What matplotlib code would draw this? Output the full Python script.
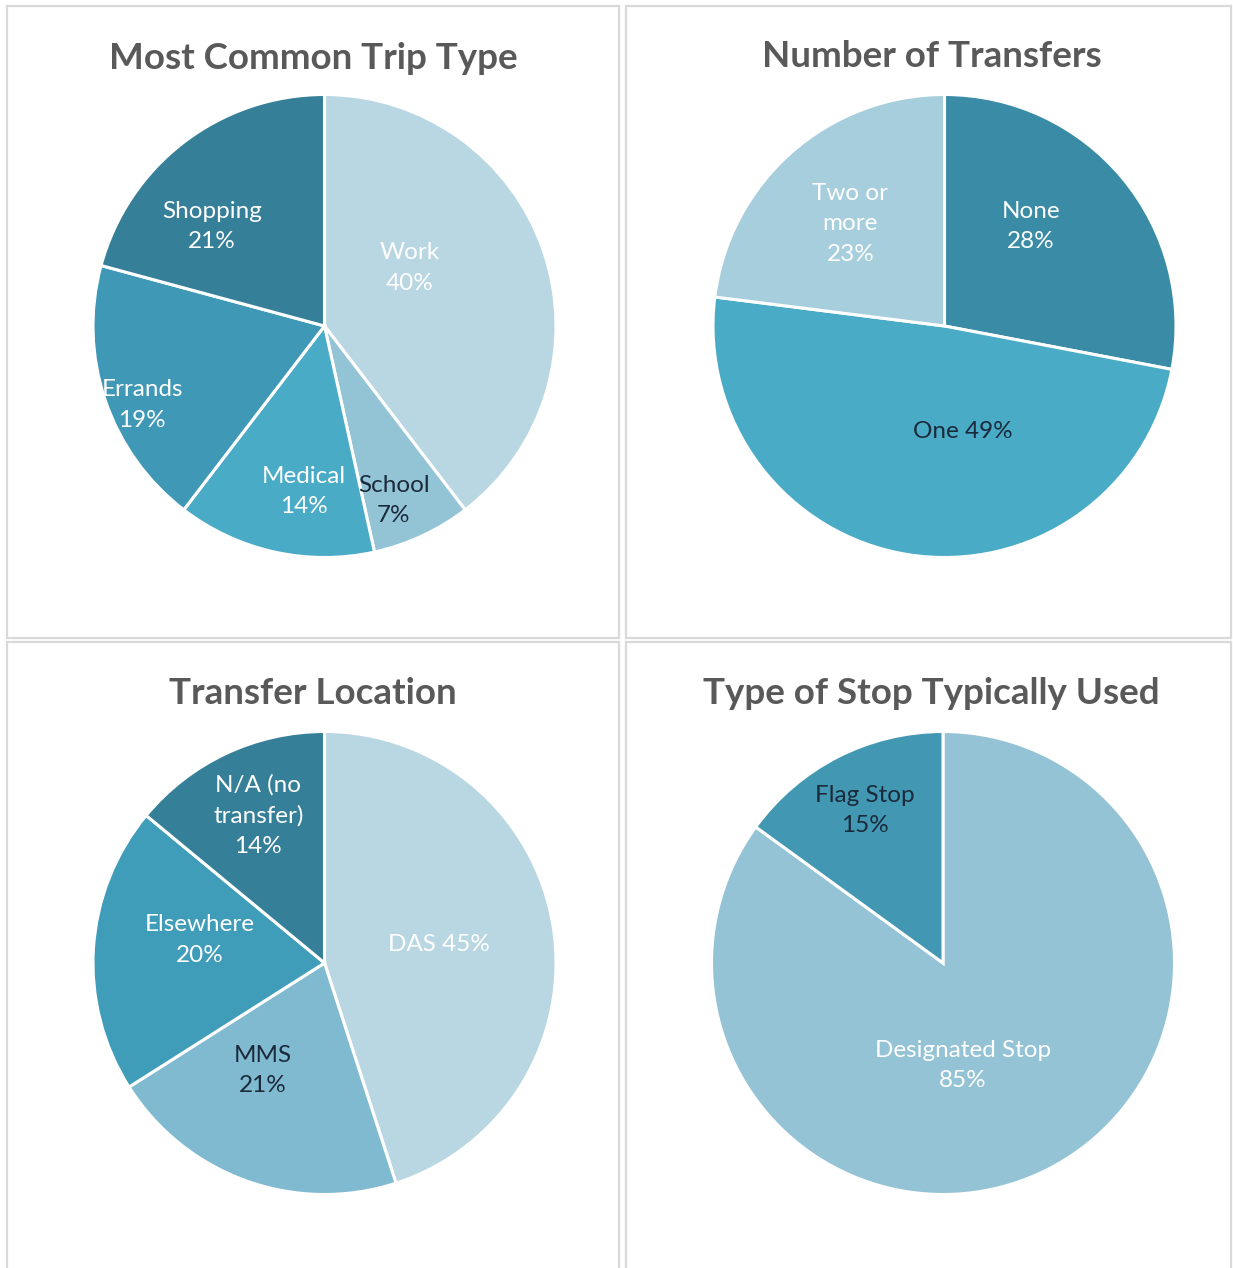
import matplotlib
matplotlib.use("Agg")
import matplotlib.pyplot as plt
from matplotlib.patches import Rectangle

plt.rcParams['font.family'] = ['Lato', 'DejaVu Sans']

# ---- data ----
trip_labels = ["Work", "School", "Medical", "Errands", "Shopping"]
trip_values = [40, 7, 14, 19, 21]

transfer_labels = ["None", "One", "Two or\nmore"]
transfer_values = [28, 49, 23]

location_labels = ["DAS", "MMS", "Elsewhere", "N/A (no\ntransfer)"]
location_values = [45, 21, 20, 14]

stop_labels = ["Designated Stop", "Flag Stop"]
stop_values = [85, 15]

titles = ["Most Common Trip Type", "Number of Transfers",
          "Transfer Location", "Type of Stop Typically Used"]

# ---- styles ----
W, H = 1233, 1268
fig = plt.figure(figsize=(W / 100, H / 100), dpi=100)
fig.patch.set_facecolor("white")

LIGHT = "white"
DARK = "#1b2a3a"

panels = [
    dict(values=trip_values, labels=trip_labels,
         colors=["#b9d7e3", "#93c4d5", "#4aabc6", "#3f98b5", "#367f99"],
         tcolors=[LIGHT, DARK, LIGHT, LIGHT, LIGHT],
         seps=["\n", "\n", "\n", "\n", "\n"],
         pos=[(0.368, 0.251), (0.299, -0.753), (-0.091, -0.714), (-0.788, -0.342), (-0.485, 0.429)],
         center=(324.5, 326), title_xy=(313, 69)),
    dict(values=transfer_values, labels=transfer_labels,
         colors=["#3a8ba6", "#4aabc6", "#a7cedd"],
         tcolors=[LIGHT, DARK, LIGHT],
         seps=["\n", " ", "\n"],
         pos=[(0.372, 0.429), (0.078, -0.455), (-0.407, 0.442)],
         center=(944.5, 326), title_xy=(932, 67)),
    dict(values=location_values, labels=location_labels,
         colors=["#b9d7e3", "#80bad0", "#409db9", "#367f99"],
         tcolors=[LIGHT, DARK, LIGHT, LIGHT],
         seps=[" ", "\n", "\n", "\n"],
         pos=[(0.494, 0.078), (-0.268, -0.463), (-0.541, 0.100), (-0.286, 0.636)],
         center=(324.5, 963), title_xy=(313, 704)),
    dict(values=stop_values, labels=stop_labels,
         colors=["#94c3d5", "#4297b3"],
         tcolors=[LIGHT, DARK],
         seps=["\n", "\n"],
         pos=[(0.087, -0.442), (-0.338, 0.658)],
         center=(943, 963), title_xy=(931, 704)),
]

R = 231.5

# panel borders
borders = [(7, 6, 612, 632), (626, 6, 605, 632), (7, 642, 612, 640), (626, 642, 605, 640)]
for (x, y, w, h) in borders:
    fig.patches.append(Rectangle((x / W, 1 - (y + h) / H), w / W, h / H,
                                 transform=fig.transFigure, fill=False,
                                 edgecolor="#d9d9d9", linewidth=1.6))

for p, title in zip(panels, titles):
    cx, cy = p["center"]
    ax = fig.add_axes([(cx - R) / W, 1 - (cy + R) / H, 2 * R / W, 2 * R / H])
    wedges, _ = ax.pie(p["values"], colors=p["colors"], startangle=90, counterclock=False,
                       radius=1.0, wedgeprops=dict(edgecolor="white", linewidth=2.2))
    for w_ in wedges:
        w_.set_clip_on(False)
    ax.set_xlim(-1, 1)
    ax.set_ylim(-1, 1)
    ax.set_aspect("equal")
    ax.axis("off")
    for lab, val, tc, sep, (tx, ty) in zip(p["labels"], p["values"], p["tcolors"], p["seps"], p["pos"]):
        ax.text(tx, ty, f"{lab}{sep}{val}%", ha="center", va="center",
                color=tc, fontsize=17.5, linespacing=1.55)
    tx, ty = p["title_xy"]
    fig.text(tx / W, 1 - ty / H, title, ha="center", va="baseline",
             fontsize=26.5, fontweight="bold", color="#595959")

fig.savefig("out.png", dpi=100, facecolor="white")
